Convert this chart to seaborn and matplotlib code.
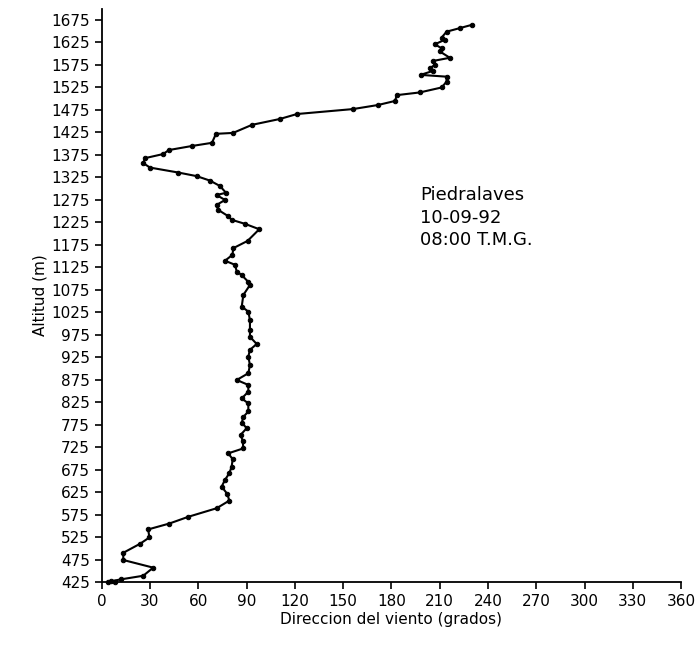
import numpy as np
import pandas as pd
import matplotlib
matplotlib.use("Agg")
import matplotlib.pyplot as plt
import seaborn as sns

# wind direction profile (altitude in m, direction in degrees)
altitud = [1664, 1657, 1649, 1636, 1631, 1621, 1612, 1605, 1591, 1584,
           1575, 1568, 1562, 1553, 1549, 1538, 1525, 1514, 1508, 1495,
           1486, 1477, 1466, 1455, 1442, 1424, 1422, 1402, 1395, 1386,
           1377, 1368, 1357, 1347, 1336, 1328, 1318, 1306, 1291, 1286,
           1275, 1264, 1253, 1239, 1231, 1222, 1210, 1184, 1168, 1153,
           1140, 1131, 1116, 1108, 1093, 1086, 1064, 1038, 1027, 1008,
           986, 971, 955, 942, 927, 908, 890, 875, 864, 849,
           834, 823, 805, 793, 780, 768, 753, 740, 723, 712,
           699, 682, 668, 653, 638, 622, 607, 590, 571, 556,
           543, 525, 511, 491, 475, 458, 440, 432, 428, 426, 425]
direccion = [229.8, 222.6, 214.3, 211.2, 213.2, 207.0, 211.2, 210.1, 216.3, 206.0,
             207.0, 203.9, 206.0, 198.1, 214.3, 214.3, 211.2, 197.7, 183.4, 182.2,
             171.6, 156.1, 121.3, 110.7, 93.4, 81.6, 71.0, 68.5, 56.1, 41.8,
             38.1, 27.0, 25.8, 30.0, 47.6, 59.0, 67.3, 73.5, 77.2, 71.4,
             76.6, 71.4, 72.4, 78.6, 80.7, 89.0, 97.9, 90.6, 81.8, 81.2,
             76.6, 82.8, 83.9, 87.0, 91.1, 92.1, 88.0, 87.0, 91.1, 92.1,
             92.1, 92.1, 96.3, 92.1, 91.1, 92.1, 91.1, 83.9, 91.1, 91.1,
             87.0, 91.1, 91.1, 88.0, 87.0, 90.1, 86.3, 87.6, 88.0, 78.6,
             81.4, 80.7, 79.3, 76.6, 74.5, 78.0, 79.3, 71.4, 53.8, 42.0,
             28.9, 29.6, 23.8, 13.4, 13.4, 32.0, 25.8, 12.0, 6.0, 4.0, 8.0]

x_ticks = list(range(0, 361, 30))
y_ticks = list(range(425, 1676, 50))
etiqueta = "Piedralaves\n10-09-92\n08:00 T.M.G."

df = pd.DataFrame({"Altitud": altitud, "Direccion": direccion})

sns.set_style("ticks")
plt.rcParams["font.family"] = ["DejaVu Sans"]
plt.rcParams["text.color"] = "black"
plt.rcParams["axes.labelcolor"] = "black"

fig = plt.figure(figsize=(7, 6.46), dpi=100)
ax = fig.add_axes([0.1453, 0.0983, 0.973 - 0.1453, 0.9865 - 0.0983])

sns.lineplot(data=df, x="Direccion", y="Altitud", orient="y", sort=False,
             color="black", linewidth=1.5, marker="o", markersize=3.2,
             markeredgecolor="black", ax=ax, clip_on=False)

ax.set_xlim(0, 360)
ax.set_ylim(425, 1700)
ax.set_xticks(x_ticks)
ax.set_yticks(y_ticks)
ax.tick_params(axis="both", direction="out", length=5, width=1.2,
               labelsize=11, colors="black")
for side in ["top", "right"]:
    ax.spines[side].set_visible(False)
for side in ["left", "bottom"]:
    ax.spines[side].set_linewidth(1.3)
    ax.spines[side].set_color("black")

ax.set_xlabel("Direccion del viento (grados)", fontsize=11, labelpad=2)
ax.set_ylabel("Altitud (m)", fontsize=11, labelpad=3)

ax.text(198, 1305, etiqueta, fontsize=13, va="top", ha="left", linespacing=1.3)

fig.savefig("out.png", dpi=100, facecolor="white")
